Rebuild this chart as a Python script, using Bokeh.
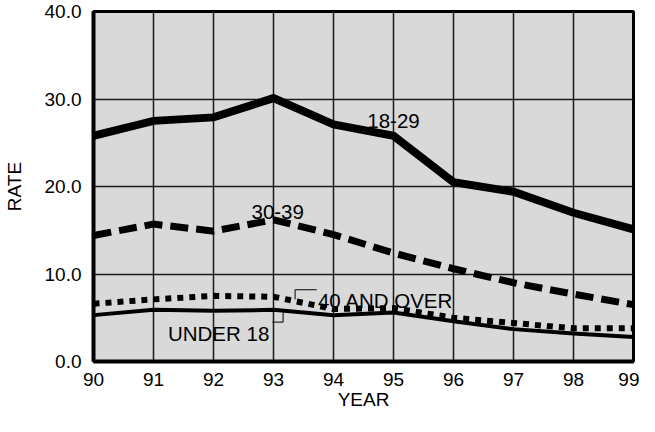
from bokeh.plotting import figure
from bokeh.models import Range1d, PrintfTickFormatter, FixedTicker
from bokeh.core.properties import value
from bokeh.embed import file_html
from bokeh.resources import INLINE

# ---- data ----
years = [90, 91, 92, 93, 94, 95, 96, 97, 98, 99]
rate_18_29 = [25.8, 27.5, 27.9, 30.1, 27.1, 25.8, 20.5, 19.4, 17.0, 15.1]
rate_30_39 = [14.4, 15.7, 14.9, 16.2, 14.5, 12.4, 10.6, 9.0, 7.7, 6.5]
rate_40_over = [6.6, 7.1, 7.5, 7.4, 6.0, 6.1, 5.0, 4.4, 3.8, 3.8]
rate_under_18 = [5.3, 5.9, 5.8, 5.9, 5.3, 5.6, 4.6, 3.7, 3.2, 2.8]

x_ticks = years
y_ticks = [0, 10, 20, 30, 40]

label_text = ["18-29", "30-39"]
label_x = [95.0, 93.07]
label_y = [27.5, 17.1]

under_text = ["UNDER 18"]
under_x = [91.24]
under_y = [3.2]
under_leader_x = [92.98, 93.16, 93.16]
under_leader_y = [4.5, 4.5, 5.6]

over_text = ["40 AND OVER"]
over_x = [93.74]
over_y = [7.0]
over_leader_x = [93.72, 93.36, 93.36]
over_leader_y = [8.2, 8.2, 7.1]

FONT = "Liberation Sans"
FS = "19px"
FS_LABEL = "20.5px"

p = figure(width=639, height=416, output_backend="svg", toolbar_location=None,
           x_range=Range1d(90, 99), y_range=Range1d(0, 40),
           min_border_left=89, min_border_right=6, min_border_top=11, min_border_bottom=55)

p.background_fill_color = "#d9d9d9"
p.border_fill_color = "white"
p.outline_line_color = "black"
p.outline_line_width = 3

for g in (p.xgrid, p.ygrid):
    g.grid_line_color = "#1a1a1a"
    g.grid_line_width = 1.5
p.xgrid.ticker = FixedTicker(ticks=x_ticks)
p.ygrid.ticker = FixedTicker(ticks=y_ticks)

p.xaxis.ticker = FixedTicker(ticks=x_ticks)
p.yaxis.ticker = FixedTicker(ticks=y_ticks)
p.yaxis.formatter = PrintfTickFormatter(format="%.1f")

for ax in (p.xaxis, p.yaxis):
    ax.axis_line_width = 4
    ax.axis_line_color = "black"
    ax.major_tick_line_color = None
    ax.minor_tick_line_color = None
    ax.major_tick_out = 0
    ax.major_tick_in = 0
    ax.major_label_text_font = FONT
    ax.major_label_text_font_size = FS
    ax.major_label_text_color = "black"
    ax.axis_label_text_font = FONT
    ax.axis_label_text_font_size = FS
    ax.axis_label_text_font_style = "normal"
    ax.axis_label_text_color = "black"

p.xaxis.axis_label = "YEAR"
p.yaxis.axis_label = "RATE"
p.xaxis.major_label_standoff = 11
p.xaxis.axis_label_standoff = 0
p.yaxis.major_label_standoff = 12
p.yaxis.axis_label_standoff = 17

p.line(years, rate_18_29, line_width=8, line_color="black", line_join="miter")
p.line(years, rate_30_39, line_width=7, line_color="black", line_dash="18 8", line_join="miter")
p.line(years, rate_under_18, line_width=4, line_color="black", line_join="miter")
p.line(years, rate_40_over, line_width=6, line_color="black", line_dash="6 6", line_join="miter")

p.line(under_leader_x, under_leader_y, line_width=1, line_color="black")
p.line(over_leader_x, over_leader_y, line_width=1, line_color="black")

p.text(x=label_x, y=label_y, text=label_text, text_font=value(FONT), text_font_size=FS_LABEL,
       text_align="center", text_baseline="alphabetic", text_color="black")
p.text(x=under_x, y=under_y, text=under_text, text_font=value(FONT), text_font_size=FS_LABEL,
       text_align="left", text_baseline="alphabetic", text_color="black")
p.text(x=over_x, y=over_y, text=over_text, text_font=value(FONT), text_font_size=FS_LABEL,
       text_align="left", text_baseline="alphabetic", text_color="black")

open("out.html", "w").write(file_html(p, INLINE))
